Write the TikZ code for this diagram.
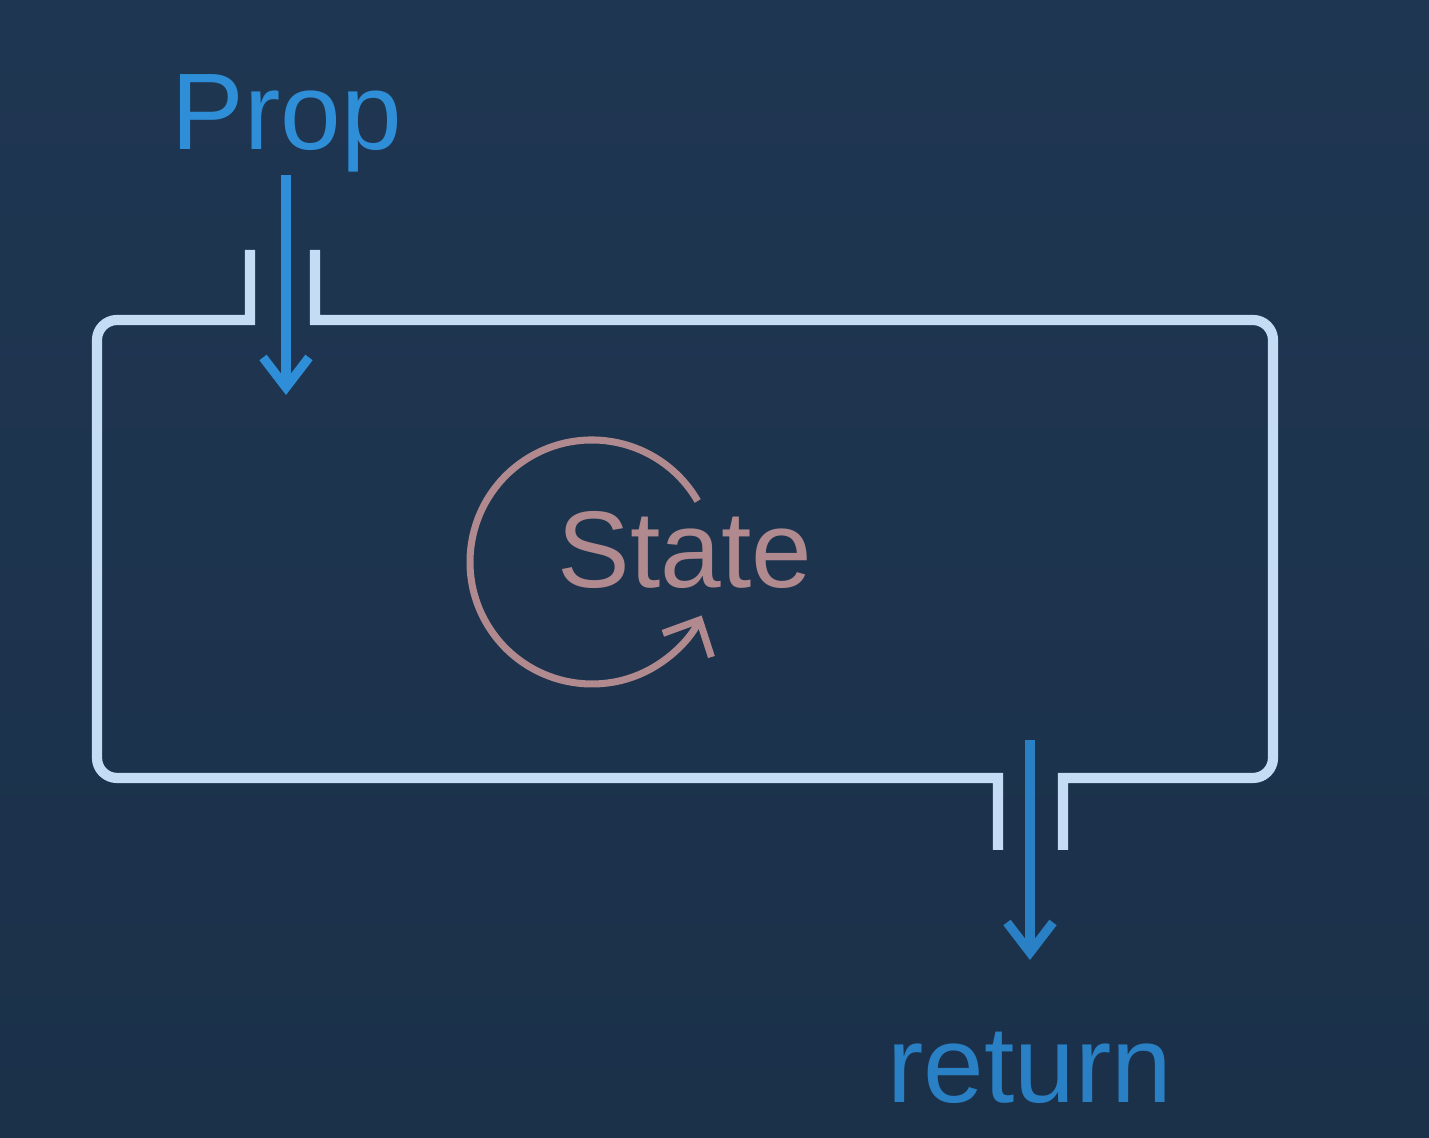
\documentclass[tikz,border=0pt]{standalone}
\usepackage{fontspec}
\setmainfont{Liberation Sans}
\usetikzlibrary{arrows.meta, positioning}
\definecolor{bgnavy}{RGB}{31, 54, 82}
\definecolor{bgnavydark}{RGB}{27, 49, 74}
\definecolor{boxline}{RGB}{196, 220, 244}
\definecolor{propblue}{RGB}{46, 143, 216}
\definecolor{returnblue}{RGB}{42, 128, 196}
\definecolor{staterose}{RGB}{176, 138, 142}

\tikzset{
  wall/.style={boxline, line width=2.9pt},
  flow/.style={line width=2.6pt, -{Straight Barb[length=3mm, width=4.6mm]}},
  bigtext/.style={font=\fontsize{31}{37}\selectfont, inner sep=0pt, anchor=base}
}

\begin{document}
\begin{tikzpicture}
  \shade[top color=bgnavy, bottom color=bgnavydark] (0,0) rectangle (14.29,11.38);
  \useasboundingbox (0,0) rectangle (14.29,11.38);

  % component outline with two openings
  \draw[wall] (2.50,8.88) -- (2.50,8.18) -- (1.17,8.18) arc[start angle=90, end angle=180, radius=0.2]
    -- (0.97,3.80) arc[start angle=180, end angle=270, radius=0.2] -- (9.98,3.60) -- (9.98,2.88);
  \draw[wall] (3.15,8.88) -- (3.15,8.18) -- (12.53,8.18) arc[start angle=90, end angle=0, radius=0.2]
    -- (12.73,3.80) arc[start angle=0, end angle=-90, radius=0.2] -- (10.63,3.60) -- (10.63,2.88);

  % input
  \node[bigtext, propblue] (prop) at (2.87,9.88) {Prop};
  \coordinate (propin) at (2.86,9.63);
  \coordinate (propout) at (2.86,7.43);
  \draw[flow, propblue] (propin) -- (propout);

  % inner state
  \node[bigtext, staterose] (state) at (6.85,5.50) {State};
  \coordinate (loopc) at (5.92,5.76);
  \draw[staterose, line width=2pt, -{Straight Barb[length=2.8mm, width=5.4mm]}]
    ([shift={(30:1.22)}]loopc) arc[start angle=30, end angle=334, radius=1.22];

  % output
  \coordinate (retin) at (10.30,3.98);
  \coordinate (retout) at (10.30,1.78);
  \draw[flow, returnblue] (retin) -- (retout);
  \node[bigtext, returnblue] (ret) at (10.30,0.35) {return};
\end{tikzpicture}
\end{document}
